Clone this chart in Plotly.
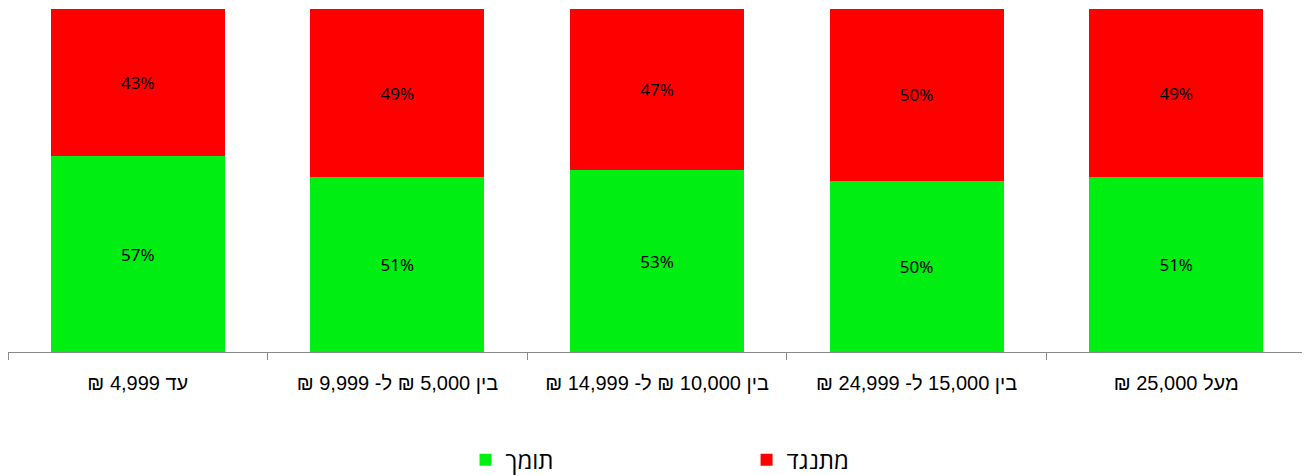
import plotly.graph_objects as go

categories = [
    "עד 4,999 ₪",
    "בין 5,000 ₪ ל- 9,999 ₪",
    "בין 10,000 ₪ ל- 14,999 ₪",
    "בין 15,000 ל- 24,999 ₪",
    "מעל 25,000 ₪",
]
support = [57, 51, 53, 50, 51]   # תומך
oppose = [43, 49, 47, 50, 49]    # מתנגד

GREEN = "#00EE11"
RED = "#FF0000"

# wrap in a right-to-left embedding so the shekel sign / numbers order like the original
labels = ["\u202b" + c + "\u202c" for c in categories]

fig = go.Figure()
fig.add_trace(go.Bar(
    x=labels, y=support, name="תומך",
    marker=dict(color=GREEN, line=dict(width=0)),
    text=[f"{v}%" for v in support], textposition="inside",
    insidetextanchor="middle", textangle=0,
    textfont=dict(family="Noto Sans", size=17, color="black"),
))
fig.add_trace(go.Bar(
    x=labels, y=oppose, name="מתנגד",
    marker=dict(color=RED, line=dict(width=0)),
    text=[f"{v}%" for v in oppose], textposition="inside",
    insidetextanchor="middle", textangle=0,
    textfont=dict(family="Noto Sans", size=17, color="black"),
))

# page body has an 8px margin, so the figure is sized/offset to compensate
fig.update_layout(
    barmode="stack",
    bargap=0.33,
    width=1302, height=467,
    margin=dict(l=0, r=4, t=1, b=123, autoexpand=False),
    plot_bgcolor="white", paper_bgcolor="white",
    showlegend=True,
    legend=dict(
        orientation="h", x=0.569, xanchor="center",
        yref="container", y=0.032, yanchor="middle",
        font=dict(family="Open Sans", size=24, color="black"),
        entrywidth=236, traceorder="normal",
    ),
)
fig.update_xaxes(
    type="category",
    showline=True, linecolor="#898989", linewidth=1,
    ticks="outside", tickson="boundaries", ticklen=7, tickcolor="#898989",
    tickfont=dict(family="Liberation Sans", size=20, color="black"),
    ticklabelstandoff=13,
    showgrid=False,
)
fig.update_yaxes(range=[0, 100], visible=False, showgrid=False)

fig.write_html("out.html")
